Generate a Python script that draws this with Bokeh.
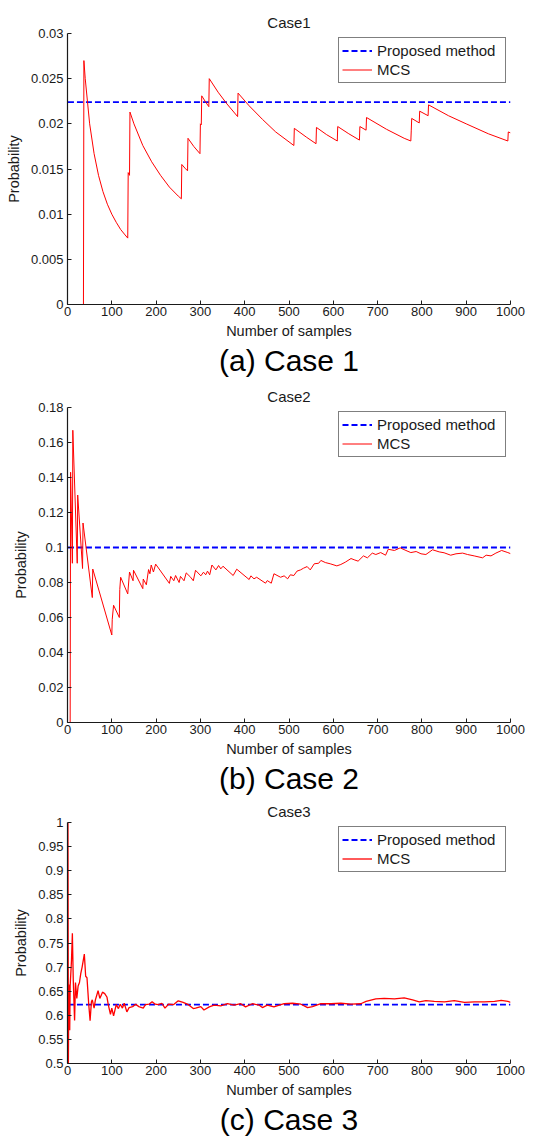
from bokeh.plotting import figure
from bokeh.models import Range1d, FixedTicker, Legend, LegendItem, Title
from bokeh.layouts import column
from bokeh.embed import file_html
from bokeh.resources import INLINE

FONT = "Liberation Sans"

# ---------------- data ----------------
x_ticks = [0, 100, 200, 300, 400, 500, 600, 700, 800, 900, 1000]
x_tick_labels = ["0", "100", "200", "300", "400", "500", "600", "700", "800", "900", "1000"]
series_names = ["Proposed method", "MCS"]

# Case 1
case1_n = [1, 36, 37, 40, 50, 60, 70, 80, 90, 100, 110, 120, 130, 136, 137, 140, 141,
           150, 170, 190, 210, 230, 250, 257, 258, 265, 271, 272, 285, 299, 300, 302, 303,
           312, 319, 320, 340, 360, 384, 385, 410, 440, 470, 511, 512, 540, 561, 562, 585,
           609, 610, 635, 659, 660, 674, 675, 720, 760, 775, 776, 777, 794, 795, 814, 815,
           860, 900, 950, 994, 995, 1000]
case1_p = [0.0, 0.0, 0.0270, 0.0250, 0.0200, 0.0167, 0.0143, 0.0125, 0.0111, 0.0100, 0.0091,
           0.0083, 0.0077, 0.00735, 0.0146, 0.0143, 0.0213,
           0.0200, 0.0176, 0.0158, 0.0143, 0.0130, 0.0120, 0.0117, 0.0155, 0.0151, 0.0148,
           0.0184, 0.0175, 0.0167, 0.0200, 0.0199, 0.0231,
           0.0224, 0.0219, 0.0250, 0.0235, 0.0222, 0.0208, 0.0234, 0.0220, 0.0205, 0.0191,
           0.0176, 0.0195, 0.0185, 0.0178, 0.0196, 0.0188,
           0.0181, 0.0197, 0.0189, 0.0182, 0.0197, 0.0193, 0.0207, 0.0194, 0.0184, 0.0181,
           0.0193, 0.0206, 0.0201, 0.0214, 0.0209, 0.0221,
           0.0209, 0.0200, 0.0189, 0.0181, 0.0191, 0.0190]
case1_proposed = 0.0224
case1_yticks = [0, 0.005, 0.01, 0.015, 0.02, 0.025, 0.03]
case1_ylabels = ["0", "0.005", "0.01", "0.015", "0.02", "0.025", "0.03"]

# Case 2
case2_n = [1, 6, 7, 11, 12, 22, 23, 34, 35, 56, 57, 100, 101, 104, 117, 118, 120, 136, 140,
           148, 149, 170, 171, 178, 183, 186, 189, 194, 199, 230, 233, 240, 244, 252, 255,
           263, 268, 278, 284, 289, 301, 307, 312, 316, 321, 326, 335, 341, 346, 351, 374,
           382, 410, 414, 421, 427, 447, 451, 460, 466, 481, 489, 497, 503, 511, 518, 526,
           533, 541, 548, 557, 567, 572, 582, 593, 608, 617, 627, 640, 647, 656, 668, 677,
           688, 696, 707, 718, 724, 738, 751, 764, 775, 787, 798, 809, 824, 839, 850, 865,
           877, 892, 903, 918, 937, 945, 956, 967, 980, 994, 1000]
case2_p = [0.0, 0.0, 0.143, 0.091, 0.167, 0.091, 0.130, 0.088, 0.114, 0.0714, 0.0877, 0.050,
           0.059, 0.067, 0.060, 0.076, 0.083, 0.0735, 0.086,
           0.081, 0.087, 0.0765, 0.082, 0.0787, 0.0874, 0.085, 0.090, 0.086, 0.0905, 0.0795,
           0.0835, 0.081, 0.084, 0.080, 0.0835,
           0.081, 0.0855, 0.083, 0.081, 0.087, 0.0838, 0.0859, 0.0844, 0.0865, 0.0844, 0.090,
           0.0872, 0.0897, 0.0878, 0.0893, 0.084,
           0.0876, 0.0817, 0.0838, 0.0821, 0.083, 0.0796, 0.0811, 0.0796, 0.085, 0.083, 0.0838,
           0.0821, 0.0844, 0.084, 0.0865, 0.0872,
           0.0882, 0.0891, 0.0872, 0.0907, 0.091, 0.0926, 0.0914, 0.0907, 0.0895, 0.0903,
           0.0916, 0.0937, 0.093, 0.0922, 0.0952, 0.0941,
           0.0968, 0.096, 0.0971, 0.0956, 0.099, 0.0983, 0.0998, 0.0983, 0.0971, 0.0977,
           0.0964, 0.096, 0.0987, 0.0975, 0.097, 0.0956,
           0.0964, 0.0968, 0.096, 0.0952, 0.0941, 0.0956, 0.0952, 0.0968, 0.0983, 0.0971, 0.0965]
case2_proposed = 0.1
case2_yticks = [0, 0.02, 0.04, 0.06, 0.08, 0.1, 0.12, 0.14, 0.16, 0.18]
case2_ylabels = ["0", "0.02", "0.04", "0.06", "0.08", "0.1", "0.12", "0.14", "0.16", "0.18"]

# Case 3
case3_n = [1, 2, 3, 5, 6, 9, 11, 13, 16, 18, 21, 24, 27, 30, 33, 38, 41, 44, 48, 51, 54, 56,
           60, 63, 69, 73, 79, 84, 89, 92, 97, 100, 104, 110, 115, 119, 124, 128, 134, 139,
           147, 154, 161, 171, 176, 184, 191, 198, 205, 213, 220, 228, 239, 250, 261, 273,
           284, 289, 301, 308, 320, 331, 346, 361, 376, 391, 402, 417, 433, 440, 451, 466,
           478, 489, 508, 527, 542, 553, 572, 595, 617, 640, 662, 674, 696, 715, 738, 760,
           779, 794, 809, 828, 851, 873, 896, 919, 941, 964, 979, 994, 1000]
case3_p = [1.0, 0.5, 0.664, 0.569, 0.661, 0.714, 0.770, 0.674, 0.589, 0.668, 0.635, 0.661,
           0.668, 0.687, 0.700, 0.727, 0.681, 0.678, 0.622, 0.589, 0.628, 0.632,
           0.615, 0.632, 0.651, 0.635, 0.648, 0.645, 0.638, 0.622, 0.602, 0.615, 0.599, 0.622,
           0.614, 0.623, 0.615, 0.625, 0.607, 0.616,
           0.618, 0.623, 0.618, 0.615, 0.622, 0.623, 0.628, 0.623, 0.622, 0.625, 0.615, 0.623,
           0.622, 0.630, 0.627, 0.622,
           0.614, 0.615, 0.618, 0.611, 0.6175, 0.621, 0.6195, 0.624, 0.621, 0.624, 0.6175,
           0.624, 0.621, 0.616, 0.621, 0.6175,
           0.621, 0.624, 0.625, 0.623, 0.616, 0.618, 0.624, 0.624, 0.625, 0.623, 0.624, 0.629,
           0.634, 0.635, 0.634, 0.636,
           0.632, 0.628, 0.6305, 0.629, 0.628, 0.6305, 0.627, 0.628, 0.628, 0.629, 0.631,
           0.629, 0.627]
case3_proposed = 0.622
case3_yticks = [0.5, 0.55, 0.6, 0.65, 0.7, 0.75, 0.8, 0.85, 0.9, 0.95, 1]
case3_ylabels = ["0.5", "0.55", "0.6", "0.65", "0.7", "0.75", "0.8", "0.85", "0.9", "0.95", "1"]


def make_panel(n, p, proposed, yticks, ylabels, title, caption, height, top, bottom,
               red_width):
    ymin, ymax = float(yticks[0]), float(yticks[-1])
    fig = figure(width=539, height=height, x_range=Range1d(0, 1000),
                 y_range=Range1d(ymin, ymax), output_backend="svg",
                 toolbar_location=None, min_border_left=67, min_border_right=29,
                 min_border_top=top, min_border_bottom=bottom)
    fig.outline_line_color = None
    fig.xgrid.visible = False
    fig.ygrid.visible = False
    fig.background_fill_color = "white"
    fig.border_fill_color = "white"

    r_prop = fig.line([n[0], n[-1]], [proposed, proposed], line_color="#0000FF",
                      line_dash="6 3", line_width=1.8)
    r_mcs = fig.line(n, p, line_color="#FF0000", line_width=red_width)

    xa = fig.xaxis[0]
    ya = fig.yaxis[0]
    xa.ticker = FixedTicker(ticks=[float(t) for t in x_ticks])
    xa.major_label_overrides = {float(t): l for t, l in zip(x_ticks, x_tick_labels)}
    ya.ticker = FixedTicker(ticks=[float(t) for t in yticks])
    ya.major_label_overrides = {float(t): l for t, l in zip(yticks, ylabels)}
    xa.axis_label = "Number of samples"
    ya.axis_label = "Probability"
    for ax in (xa, ya):
        ax.major_tick_in = 4
        ax.major_tick_out = 0
        ax.minor_tick_line_color = None
        ax.axis_line_color = "#1a1a1a"
        ax.axis_line_width = 1.2
        ax.major_tick_line_color = "#1a1a1a"
        ax.major_label_text_font = FONT
        ax.major_label_text_font_size = "13px"
        ax.major_label_text_color = "#1a1a1a"
        ax.axis_label_text_font = FONT
        ax.axis_label_text_font_size = "14.5px"
        ax.axis_label_text_font_style = "normal"
        ax.axis_label_text_color = "#1a1a1a"
    xa.major_label_standoff = 2
    xa.axis_label_standoff = 4
    ya.major_label_standoff = 4
    ya.axis_label_standoff = 6

    legend = Legend(items=[LegendItem(label=series_names[0], renderers=[r_prop]),
                           LegendItem(label=series_names[1], renderers=[r_mcs])],
                    location="top_right")
    legend.margin = 4
    legend.padding = 3
    legend.spacing = 0
    legend.glyph_width = 30
    legend.glyph_height = 19
    legend.label_height = 19
    legend.label_width = 125
    legend.label_standoff = 5
    legend.label_text_font = FONT
    legend.label_text_font_size = "15px"
    legend.label_text_color = "#1a1a1a"
    legend.border_line_color = "black"
    legend.border_line_width = 1.5
    legend.background_fill_color = "white"
    legend.background_fill_alpha = 1.0
    fig.add_layout(legend)

    fig.add_layout(Title(text=title, align="center", text_font=FONT,
                         text_font_size="15px", text_font_style="normal",
                         text_color="#1a1a1a", standoff=5), "above")
    fig.add_layout(Title(text=caption, align="center", text_font=FONT,
                         text_font_size="30px", text_font_style="normal",
                         text_color="black", standoff=0), "below")
    return fig


p1 = make_panel(case1_n, case1_p, case1_proposed, case1_yticks, case1_ylabels,
                "Case1", "(a) Case 1", 380, 33, 76, 1.0)
p2 = make_panel(case2_n, case2_p, case2_proposed, case2_yticks, case2_ylabels,
                "Case2", "(b) Case 2", 418, 27, 76, 1.0)
p3 = make_panel(case3_n, case3_p, case3_proposed, case3_yticks, case3_ylabels,
                "Case3", "(c) Case 3", 338, 22, 73, 1.3)

layout = column(p1, p2, p3, spacing=0)
open("out.html", "w").write(file_html(layout, INLINE))
